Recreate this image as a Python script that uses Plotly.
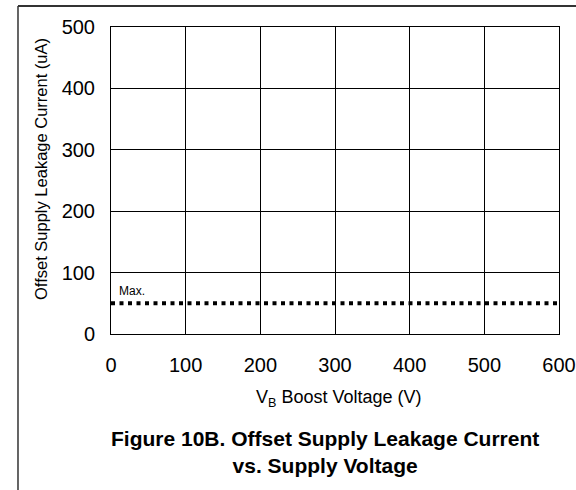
import plotly.graph_objects as go

x_ticks = [0, 100, 200, 300, 400, 500, 600]
y_ticks = [0, 100, 200, 300, 400, 500]
max_x = [0, 600]
max_y = [50, 50]

fig = go.Figure()
fig.add_trace(go.Scatter(x=max_x, y=max_y, mode="lines",
                         line=dict(color="black", width=4, dash="4px,4.5px"),
                         showlegend=False, hoverinfo="skip"))

font = "Liberation Sans, Arial, sans-serif"
axis_common = dict(showline=True, linecolor="black", linewidth=1, mirror=True,
                   showgrid=True, gridcolor="black", gridwidth=1, zeroline=False,
                   automargin=False, ticks="outside", tickcolor="rgba(0,0,0,0)",
                   tickfont=dict(size=20, color="black", family=font))
fig.update_layout(
    width=576, height=490,
    margin=dict(l=111, r=17, t=27, b=156, autoexpand=False),
    paper_bgcolor="white", plot_bgcolor="white",
    font=dict(family=font, color="black"),
    xaxis=dict(range=[0, 600], tickvals=x_ticks, ticklen=13, **axis_common),
    yaxis=dict(range=[0, 500], tickvals=y_ticks, ticklen=11, **axis_common),
)
fig.add_annotation(x=-0.1563, y=0.5375, xref="paper", yref="paper",
                   text="Offset Supply Leakage Current (uA)", textangle=-90,
                   showarrow=False, xanchor="center", yanchor="middle",
                   font=dict(size=16.5))
fig.add_annotation(x=0.5089, y=-0.2085, xref="paper", yref="paper",
                   text="V<sub>B</sub> Boost Voltage (V)",
                   showarrow=False, xanchor="center", yanchor="middle",
                   font=dict(size=18))
fig.add_annotation(x=8, y=56, xref="x", yref="y", text="Max.", showarrow=False,
                   xanchor="left", yanchor="bottom", font=dict(size=12))
fig.add_annotation(x=0.4777, y=-0.384, xref="paper", yref="paper",
                   text="<b>Figure 10B. Offset Supply Leakage Current<br>vs. Supply Voltage</b>",
                   showarrow=False, xanchor="center", yanchor="middle",
                   font=dict(size=21), align="center")
fig.add_shape(type="line", xref="paper", yref="paper", x0=-0.2076, x1=1.2, y0=1.0684, y1=1.0684,
              line=dict(color="#333", width=2))
fig.add_shape(type="line", xref="paper", yref="paper", x0=-0.2076, x1=-0.2076, y0=1.0684, y1=-0.52,
              line=dict(color="#333", width=1.5))
fig.write_html("out.html", config={"displayModeBar": False},
               post_script="document.body.style.margin='0';")
